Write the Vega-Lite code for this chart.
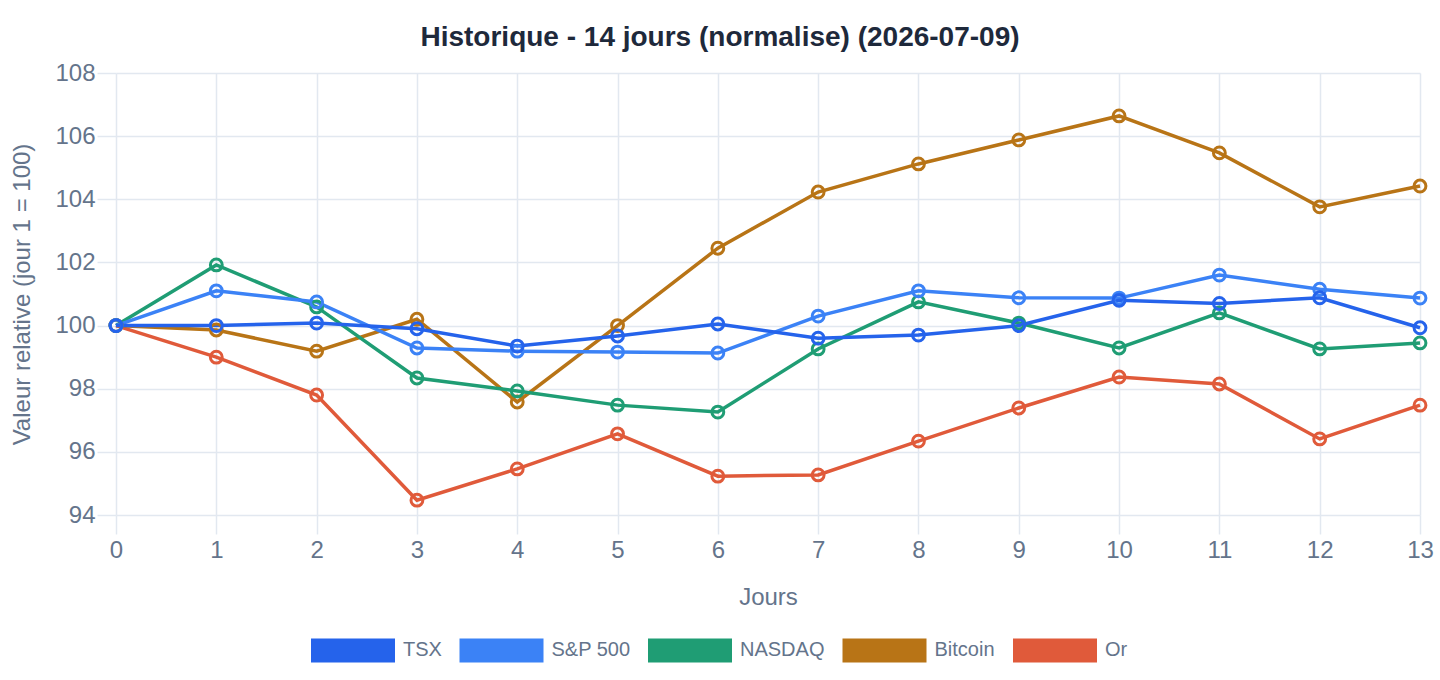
{
  "$schema": "https://vega.github.io/schema/vega-lite/v6.json",
  "width": 1304,
  "height": 442,
  "autosize": {"type": "none"},
  "padding": {"left": 116, "top": 73, "right": 20, "bottom": 165},
  "background": "white",
  "title": {
    "text": "Historique - 14 jours (normalise) (2026-07-09)",
    "anchor": "middle",
    "frame": "group",
    "dx": -48,
    "offset": 9,
    "font": "Liberation Sans",
    "fontSize": 28,
    "fontWeight": "bold",
    "color": "#1e293b"
  },
  "config": {
    "view": {"stroke": null},
    "font": "Liberation Sans",
    "axis": {
      "gridColor": "#e2e8f0",
      "gridWidth": 1.5,
      "tickColor": "#e2e8f0",
      "tickWidth": 1.5,
      "tickSize": 19,
      "domain": false,
      "labelFlush": false,
      "labelFont": "Liberation Sans",
      "labelFontSize": 24,
      "labelColor": "#64748b",
      "titleFont": "Liberation Sans",
      "titleFontSize": 24,
      "titleFontWeight": "normal",
      "titleColor": "#64748b"
    }
  },
  "data": {
    "values": [
      {"jour": 0, "serie": "Or", "valeur": 100.0},
      {"jour": 1, "serie": "Or", "valeur": 99.0},
      {"jour": 2, "serie": "Or", "valeur": 97.8},
      {"jour": 3, "serie": "Or", "valeur": 94.47},
      {"jour": 4, "serie": "Or", "valeur": 95.46},
      {"jour": 5, "serie": "Or", "valeur": 96.57},
      {"jour": 6, "serie": "Or", "valeur": 95.23},
      {"jour": 7, "serie": "Or", "valeur": 95.27},
      {"jour": 8, "serie": "Or", "valeur": 96.34},
      {"jour": 9, "serie": "Or", "valeur": 97.39},
      {"jour": 10, "serie": "Or", "valeur": 98.37},
      {"jour": 11, "serie": "Or", "valeur": 98.15},
      {"jour": 12, "serie": "Or", "valeur": 96.41},
      {"jour": 13, "serie": "Or", "valeur": 97.48},

      {"jour": 0, "serie": "Bitcoin", "valeur": 100.0},
      {"jour": 1, "serie": "Bitcoin", "valeur": 99.86},
      {"jour": 2, "serie": "Bitcoin", "valeur": 99.19},
      {"jour": 3, "serie": "Bitcoin", "valeur": 100.2},
      {"jour": 4, "serie": "Bitcoin", "valeur": 97.58},
      {"jour": 5, "serie": "Bitcoin", "valeur": 100.0},
      {"jour": 6, "serie": "Bitcoin", "valeur": 102.45},
      {"jour": 7, "serie": "Bitcoin", "valeur": 104.23},
      {"jour": 8, "serie": "Bitcoin", "valeur": 105.12},
      {"jour": 9, "serie": "Bitcoin", "valeur": 105.88},
      {"jour": 10, "serie": "Bitcoin", "valeur": 106.64},
      {"jour": 11, "serie": "Bitcoin", "valeur": 105.47},
      {"jour": 12, "serie": "Bitcoin", "valeur": 103.76},
      {"jour": 13, "serie": "Bitcoin", "valeur": 104.42},

      {"jour": 0, "serie": "NASDAQ", "valeur": 100.0},
      {"jour": 1, "serie": "NASDAQ", "valeur": 101.92},
      {"jour": 2, "serie": "NASDAQ", "valeur": 100.59},
      {"jour": 3, "serie": "NASDAQ", "valeur": 98.34},
      {"jour": 4, "serie": "NASDAQ", "valeur": 97.93},
      {"jour": 5, "serie": "NASDAQ", "valeur": 97.48},
      {"jour": 6, "serie": "NASDAQ", "valeur": 97.26},
      {"jour": 7, "serie": "NASDAQ", "valeur": 99.26},
      {"jour": 8, "serie": "NASDAQ", "valeur": 100.75},
      {"jour": 9, "serie": "NASDAQ", "valeur": 100.08},
      {"jour": 10, "serie": "NASDAQ", "valeur": 99.29},
      {"jour": 11, "serie": "NASDAQ", "valeur": 100.4},
      {"jour": 12, "serie": "NASDAQ", "valeur": 99.26},
      {"jour": 13, "serie": "NASDAQ", "valeur": 99.45},

      {"jour": 0, "serie": "S&P 500", "valeur": 100.0},
      {"jour": 1, "serie": "S&P 500", "valeur": 101.1},
      {"jour": 2, "serie": "S&P 500", "valeur": 100.75},
      {"jour": 3, "serie": "S&P 500", "valeur": 99.29},
      {"jour": 4, "serie": "S&P 500", "valeur": 99.19},
      {"jour": 5, "serie": "S&P 500", "valeur": 99.16},
      {"jour": 6, "serie": "S&P 500", "valeur": 99.13},
      {"jour": 7, "serie": "S&P 500", "valeur": 100.3},
      {"jour": 8, "serie": "S&P 500", "valeur": 101.1},
      {"jour": 9, "serie": "S&P 500", "valeur": 100.88},
      {"jour": 10, "serie": "S&P 500", "valeur": 100.87},
      {"jour": 11, "serie": "S&P 500", "valeur": 101.6},
      {"jour": 12, "serie": "S&P 500", "valeur": 101.15},
      {"jour": 13, "serie": "S&P 500", "valeur": 100.87},

      {"jour": 0, "serie": "TSX", "valeur": 100.0},
      {"jour": 1, "serie": "TSX", "valeur": 100.0},
      {"jour": 2, "serie": "TSX", "valeur": 100.08},
      {"jour": 3, "serie": "TSX", "valeur": 99.9},
      {"jour": 4, "serie": "TSX", "valeur": 99.35},
      {"jour": 5, "serie": "TSX", "valeur": 99.67},
      {"jour": 6, "serie": "TSX", "valeur": 100.05},
      {"jour": 7, "serie": "TSX", "valeur": 99.6},
      {"jour": 8, "serie": "TSX", "valeur": 99.7},
      {"jour": 9, "serie": "TSX", "valeur": 100.0},
      {"jour": 10, "serie": "TSX", "valeur": 100.8},
      {"jour": 11, "serie": "TSX", "valeur": 100.7},
      {"jour": 12, "serie": "TSX", "valeur": 100.88},
      {"jour": 13, "serie": "TSX", "valeur": 99.93}
    ]
  },
  "encoding": {
    "x": {
      "field": "jour",
      "type": "quantitative",
      "title": "Jours",
      "scale": {"domain": [0, 13], "nice": false, "zero": false},
      "axis": {
        "values": [0, 1, 2, 3, 4, 5, 6, 7, 8, 9, 10, 11, 12, 13],
        "labelPadding": 4,
        "titlePadding": 23
      }
    },
    "y": {
      "field": "valeur",
      "type": "quantitative",
      "title": "Valeur relative (jour 1 = 100)",
      "scale": {"domain": [94, 108], "nice": false, "zero": false},
      "axis": {
        "values": [94, 96, 98, 100, 102, 104, 106, 108],
        "labelPadding": 2,
        "titlePadding": 20
      }
    },
    "color": {
      "field": "serie",
      "type": "nominal",
      "scale": {
        "domain": ["TSX", "S&P 500", "NASDAQ", "Bitcoin", "Or"],
        "range": ["#2563eb", "#3b82f6", "#1f9d74", "#b87416", "#e05a3a"]
      },
      "legend": {
        "title": null,
        "orient": "none",
        "direction": "horizontal",
        "legendX": 195,
        "legendY": 535,
        "symbolType": "M-1,-0.286H1V0.286H-1Z",
        "symbolSize": 7056,
        "symbolStrokeWidth": 0,
        "symbolOpacity": 1,
        "labelFont": "Liberation Sans",
        "labelFontSize": 20,
        "labelColor": "#64748b",
        "labelOffset": 8,
        "columnPadding": 17.5,
        "encode": {
          "symbols": {
            "update": {
              "fill": {"scale": "color", "field": "value"},
              "fillOpacity": {"value": 1}
            }
          }
        }
      }
    }
  },
  "layer": [
    {
      "mark": {"type": "line", "strokeWidth": 3.5}
    },
    {
      "mark": {"type": "point", "shape": "circle", "filled": false, "size": 140, "strokeWidth": 3, "opacity": 1}
    }
  ]
}
